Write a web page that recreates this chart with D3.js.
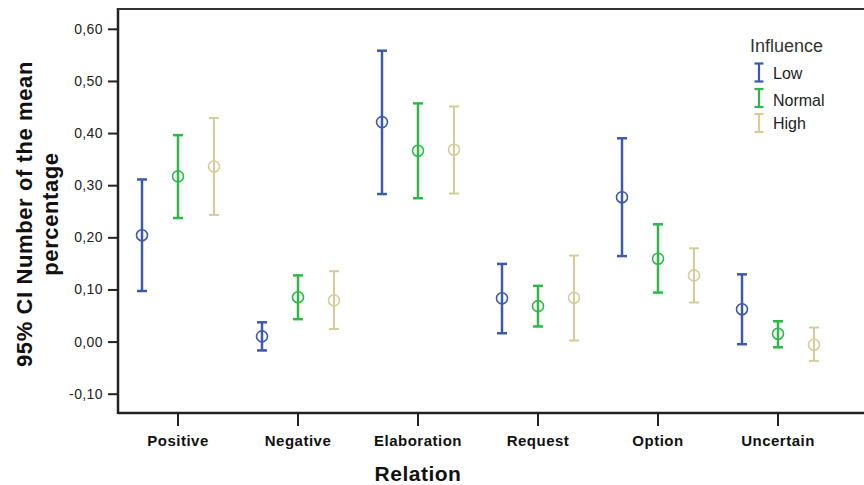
<!DOCTYPE html>
<meta charset="utf-8">
<style>
  body { margin: 0; background: #fff; }
  text { font-family: "Liberation Sans", Arial, sans-serif; }
</style>
<script src="https://d3js.org/d3.v7.min.js"></script>
<div id="chart"></div>
<script>
// Data
const relations = ["Positive", "Negative", "Elaboration", "Request", "Option", "Uncertain"];
const influences = ["Low", "Normal", "High"];
const colors = ["#3e58ac", "#2eb848", "#d3ce97"];

// mean, lower and upper CI per influence group, one entry per relation
const lowMean   = [0.204, 0.010, 0.421, 0.083, 0.277, 0.062];
const lowLower  = [0.097, -0.017, 0.283, 0.016, 0.164, -0.005];
const lowUpper  = [0.311, 0.037, 0.558, 0.149, 0.390, 0.129];
const normMean  = [0.317, 0.085, 0.366, 0.068, 0.159, 0.015];
const normLower = [0.237, 0.043, 0.275, 0.029, 0.094, -0.011];
const normUpper = [0.396, 0.127, 0.457, 0.107, 0.225, 0.039];
const highMean  = [0.336, 0.079, 0.368, 0.084, 0.127, -0.006];
const highLower = [0.243, 0.024, 0.284, 0.002, 0.075, -0.037];
const highUpper = [0.429, 0.135, 0.451, 0.165, 0.179, 0.027];

const yTicks = [-0.10, 0.00, 0.10, 0.20, 0.30, 0.40, 0.50, 0.60];

const series = [
  { name: "Low", mean: lowMean, lower: lowLower, upper: lowUpper },
  { name: "Normal", mean: normMean, lower: normLower, upper: normUpper },
  { name: "High", mean: highMean, lower: highLower, upper: highUpper }
];

const width = 864, height = 485;
const margin = { left: 118, top: 9, right: 26, bottom: 72 };

const svg = d3.select("#chart").append("svg")
  .attr("width", width)
  .attr("height", height);

const x = d3.scaleBand()
  .domain(relations)
  .range([margin.left, width - margin.right]);

const xInner = d3.scaleBand()
  .domain(influences)
  .range([-54, 54])
  .paddingInner(0);

const y = d3.scaleLinear()
  .domain([-0.137, 0.638])
  .range([height - margin.bottom, margin.top]);

const fmt = d => d3.format(".2f")(d).replace(".", ",").replace("−", "-");

// y axis
const yAxis = svg.append("g")
  .attr("transform", `translate(${margin.left},0)`)
  .call(d3.axisLeft(y).tickValues(yTicks).tickSize(10).tickPadding(5).tickFormat(fmt));
yAxis.select(".domain").remove();
yAxis.selectAll(".tick line").attr("stroke", "#222").attr("stroke-width", 2);
yAxis.selectAll(".tick text")
  .style("font-size", "14px").style("letter-spacing", "0.4px").attr("fill", "#222");

// x axis
const xAxis = svg.append("g")
  .attr("transform", `translate(0,${height - margin.bottom})`)
  .call(d3.axisBottom(x).tickSize(13).tickPadding(9));
xAxis.select(".domain").remove();
xAxis.selectAll(".tick line").attr("stroke", "#222").attr("stroke-width", 2);
xAxis.selectAll(".tick text")
  .style("font-size", "15px").style("letter-spacing", "0.5px")
  .attr("font-weight", "bold").attr("fill", "#111");

// frame: left, top and bottom lines
svg.append("line")
  .attr("x1", margin.left).attr("x2", margin.left)
  .attr("y1", margin.top - 1).attr("y2", height - margin.bottom + 1)
  .attr("stroke", "#222").attr("stroke-width", 2.5);
svg.append("line")
  .attr("x1", margin.left).attr("x2", width)
  .attr("y1", margin.top).attr("y2", margin.top)
  .attr("stroke", "#333").attr("stroke-width", 2);
svg.append("line")
  .attr("x1", margin.left).attr("x2", width)
  .attr("y1", height - margin.bottom).attr("y2", height - margin.bottom)
  .attr("stroke", "#222").attr("stroke-width", 2.5);

// error bars
series.forEach((s, si) => {
  const g = svg.append("g");
  const cx = i => x(relations[i]) + x.bandwidth() / 2 + xInner(s.name) + xInner.bandwidth() / 2;
  const sw = si === 2 ? 2 : 2.5;
  relations.forEach((r, i) => {
    const px = cx(i);
    g.append("line")
      .attr("x1", px).attr("x2", px)
      .attr("y1", y(s.upper[i])).attr("y2", y(s.lower[i]))
      .attr("stroke", colors[si]).attr("stroke-width", sw);
    [s.upper[i], s.lower[i]].forEach(v => {
      g.append("line")
        .attr("x1", px - 5).attr("x2", px + 5)
        .attr("y1", y(v)).attr("y2", y(v))
        .attr("stroke", colors[si]).attr("stroke-width", sw);
    });
    g.append("circle")
      .attr("cx", px).attr("cy", y(s.mean[i]))
      .attr("r", 5.5)
      .attr("fill", "#fff")
      .attr("stroke", colors[si]).attr("stroke-width", 1.6);
    g.append("line")
      .attr("x1", px).attr("x2", px)
      .attr("y1", y(s.mean[i]) - 5.5).attr("y2", y(s.mean[i]) + 5.5)
      .attr("stroke", colors[si]).attr("stroke-width", sw);
  });
});

// axis titles
svg.append("text")
  .attr("x", x("Elaboration") + x.bandwidth() / 2)
  .attr("y", 481)
  .attr("text-anchor", "middle")
  .style("font-size", "21px").style("letter-spacing", "0.5px")
  .attr("font-weight", "bold").attr("fill", "#111")
  .text("Relation");

const yTitle = svg.append("text")
  .attr("transform", "translate(32,214) rotate(-90)")
  .attr("text-anchor", "middle")
  .style("font-size", "22px").style("letter-spacing", "0.6px")
  .attr("font-weight", "bold").attr("fill", "#111");
yTitle.append("tspan").attr("x", 0).attr("dy", 0).text("95% CI Number of the mean");
yTitle.append("tspan").attr("x", 0).attr("dy", 26).text("percentage");

// legend
const legend = svg.append("g").attr("transform", "translate(750,0)");
legend.append("text")
  .attr("x", 0).attr("y", 52)
  .style("font-size", "18px").attr("fill", "#333")
  .text("Influence");
const legendY = [72.5, 98, 123];
const labelY = [79, 106, 129];
influences.forEach((name, i) => {
  const ly = legendY[i];
  const item = legend.append("g");
  item.append("line")
    .attr("x1", 9).attr("x2", 9).attr("y1", ly - 9).attr("y2", ly + 9)
    .attr("stroke", colors[i]).attr("stroke-width", 2.2);
  [ly - 9, ly + 9].forEach(v => {
    item.append("line")
      .attr("x1", 4.5).attr("x2", 13.5).attr("y1", v).attr("y2", v)
      .attr("stroke", colors[i]).attr("stroke-width", 2.2);
  });
  item.append("text")
    .attr("x", 23).attr("y", labelY[i])
    .style("font-size", "16px").attr("fill", "#222")
    .text(name);
});
</script>
